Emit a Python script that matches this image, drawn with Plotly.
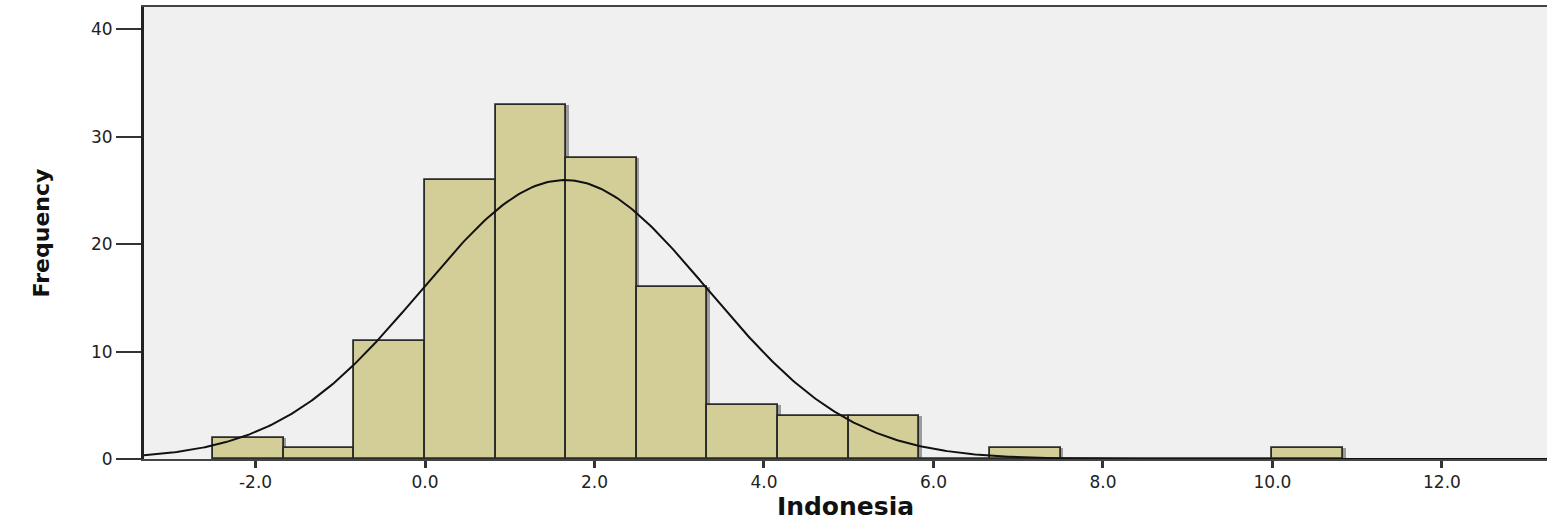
import numpy as np
import plotly.graph_objects as go

# ---- data ----
bin_start = -2.5
bin_width = 5.0 / 6.0
counts = [2, 1, 11, 26, 33, 28, 16, 5, 4, 4, 0, 1, 0, 0, 0, 1]
curve_mean = 1.65
curve_sd = 1.69
x_tick_vals = [-2.0, 0.0, 2.0, 4.0, 6.0, 8.0, 10.0, 12.0]
x_tick_text = ["-2.0", "0.0", "2.0", "4.0", "6.0", "8.0", "10.0", "12.0"]
y_tick_vals = [0, 10, 20, 30, 40]
x_title = "Indonesia"
y_title = "Frequency"

x_range = [-3.316, 13.24]
y_range = [0, 42.08]

centers = [bin_start + bin_width * (i + 0.5) for i in range(len(counts))]
n_total = sum(counts)

xs = np.linspace(x_range[0], x_range[1], 600)
ys = n_total * bin_width / (curve_sd * np.sqrt(2 * np.pi)) * np.exp(-0.5 * ((xs - curve_mean) / curve_sd) ** 2)

fig = go.Figure()
# soft shadow behind bars
fig.add_trace(go.Bar(
    x=centers, y=counts, width=bin_width, offset=-bin_width / 2 + 0.03,
    marker=dict(color="rgba(50,50,50,0.45)", line=dict(width=0)),
    hoverinfo="skip", showlegend=False,
))
fig.add_trace(go.Bar(
    x=centers, y=counts, width=bin_width,
    marker=dict(color="#d3ce97", line=dict(color="#2a2a2a", width=1.8)),
    showlegend=False,
))
fig.add_trace(go.Scatter(
    x=xs, y=ys, mode="lines", line=dict(color="#111111", width=2),
    showlegend=False, hoverinfo="skip",
))

fig.update_layout(
    width=1547, height=523,
    margin=dict(l=144, r=0, t=7, b=64, autoexpand=False),
    paper_bgcolor="white", plot_bgcolor="#f0f0f0",
    barmode="overlay", bargap=0,
    font=dict(family="DejaVu Sans", color="#222222"),
)
fig.update_xaxes(
    range=x_range, tickvals=x_tick_vals, ticktext=x_tick_text,
    ticks="outside", ticklen=7, tickwidth=3, tickcolor="#333333",
    showline=True, linecolor="#444444", linewidth=2, mirror=True,
    showgrid=False, zeroline=False,
    tickfont=dict(size=17, color="#222222"),
    title=dict(text="<b>" + x_title + "</b>", font=dict(size=25, color="#111111"), standoff=6),
)
fig.update_yaxes(
    range=y_range, tickvals=y_tick_vals,
    ticks="outside", ticklen=25, tickwidth=2, tickcolor="#333333",
    showline=True, linecolor="#222222", linewidth=3,
    showgrid=False, zeroline=False,
    tickfont=dict(size=17, color="#222222"),
    title=dict(text="<b>" + y_title + "</b>", font=dict(size=22, color="#111111"), standoff=36),
)

fig.write_html("out.html", config={"displayModeBar": False},
               post_script="document.body.style.margin='0';document.body.style.padding='0';")
